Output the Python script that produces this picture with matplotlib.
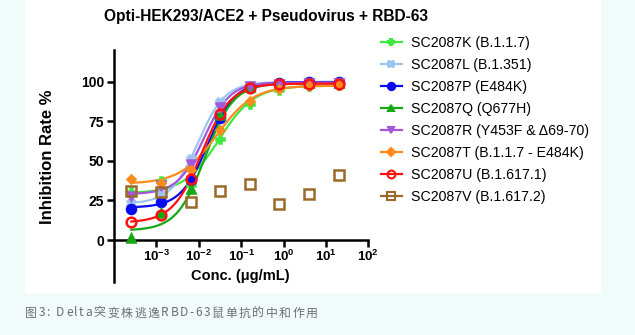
import numpy as np
import matplotlib
matplotlib.use('Agg')
import matplotlib.pyplot as plt
from matplotlib.lines import Line2D
from matplotlib.patches import Rectangle

plt.rcParams['font.family'] = ['Liberation Sans', 'DejaVu Sans']
plt.rcParams['mathtext.fontset'] = 'custom'
plt.rcParams['mathtext.rm'] = 'Liberation Sans'
plt.rcParams['mathtext.bf'] = 'Liberation Sans:bold'

# data
conc = [0.000256, 0.00128, 0.0064, 0.032, 0.16, 0.8, 4, 20]
names = ['SC2087K (B.1.1.7)', 'SC2087L (B.1.351)', 'SC2087P (E484K)', 'SC2087Q (Q677H)',
         'SC2087R (Y453F & Δ69-70)', 'SC2087T (B.1.1.7 - E484K)', 'SC2087U (B.1.617.1)',
         'SC2087V (B.1.617.2)']
K = [30.5, 37.5, 35, 63.5, 86, 95, 97.5, 98]
L = [23.5, 28.5, 51, 87, 97.5, 99, 99.5, 99.5]
P = [19.5, 24.3, 38, 77.3, 96.5, 99.4, 99.8, 99.8]
Q = [1, 17, 32.5, 79, 96.5, 98.5, 99, 99]
R = [28, 34.5, 47.7, 84, 97.5, 98.5, 99, 99]
T = [38.5, 36, 44, 69.3, 87.5, 95.5, 97.5, 98]
U = [11.5, 15.5, 38.5, 79.5, 96, 98.5, 98.5, 98.5]
V = [30.8, 30.5, 24, 30.7, 35.5, 22.5, 29.2, 41.3]

# fitted 4PL curves (bottom, top, logEC50, hill); V has no fit
fits = [(29.5, 97.5, -1.52, 1.05), (23, 99.8, -2.02, 1.35), (20.5, 99.8, -1.79, 1.36),
        (6, 99, -1.85, 1.3), (29, 99.5, -1.88, 1.4), (35.5, 97.5, -1.57, 1.0),
        (11, 98.8, -1.93, 1.27), None]

series = [K, L, P, Q, R, T, U, V]
colors = ['#3ee83e', '#9ec4f2', '#0a0af0', '#14a814', '#a458d8', '#ff8a1c', '#ff1010', '#9a6a28']
markers = ['P', 'X', 'o', '^', 'v', 'D', 'o', 's']
filled = [True, True, True, True, True, True, False, False]
msizes = [5.5, 5.5, 6.5, 6, 6, 4.5, 7, 7]

fig = plt.figure(figsize=(6.35, 3.35), dpi=100, facecolor='#f1fbf9')
fig.patches.append(Rectangle((25 / 635, 1 - 293 / 335), 576 / 635, 293 / 335,
                             transform=fig.transFigure, facecolor='white', edgecolor='none', zorder=-5))

ax = fig.add_axes([114 / 635, 53 / 335, 254.3 / 635, 232 / 335])
ax.set_zorder(2)
ax.set_facecolor('none')
ax.set_xscale('log')
ax.set_xlim(1e-4, 1e2)
ax.set_ylim(-26.5, 120)

xs = np.logspace(np.log10(conc[0]), np.log10(conc[-1]), 200)
handles = []
for i, ys in enumerate(series):
    c = colors[i]
    fc = c if filled[i] else 'none'
    if fits[i] is not None:
        b, t, lec, h = fits[i]
        ax.plot(xs, b + (t - b) / (1 + 10 ** ((lec - np.log10(xs)) * h)), color=c, lw=1.6, zorder=3)
    ax.plot(conc, ys, ls='none', marker=markers[i], ms=msizes[i], mfc=fc, mec=c, mew=1.8, zorder=4,
            clip_on=False)
    handles.append(Line2D([], [], color=c, lw=1.6, marker=markers[i], ms=msizes[i] * 0.8,
                          mfc=fc, mec=c, mew=1.5))

ax.spines['top'].set_visible(False)
ax.spines['right'].set_visible(False)
ax.spines['bottom'].set_position(('data', 0))
ax.spines['left'].set_linewidth(1.8)
ax.spines['bottom'].set_linewidth(1.8)

ax.set_yticks([0, 25, 50, 75, 100])
ax.set_yticklabels(['0', '25', '50', '75', '100'], fontweight='bold', fontsize=10)
xt = [1e-3, 1e-2, 1e-1, 1e0, 1e1, 1e2]
ax.set_xticks(xt)
ax.set_xticklabels([r'$\mathbf{10^{%d}}$' % int(np.log10(v)) for v in xt], fontsize=9.5)
ax.minorticks_off()
ax.tick_params(direction='out', length=5, width=1.8, pad=2)
ax.tick_params(axis='x', pad=1)

ax.set_xlabel('Conc. (μg/mL)', fontweight='bold', fontsize=10.5, va='center')
ax.xaxis.set_label_coords(0.498, 0.028)
ax.set_ylabel('Inhibition Rate %', fontweight='bold', fontsize=12, va='center')
ax.yaxis.set_label_coords(-0.26, 0.541)

fig.text(265.5 / 635, 1 - 17 / 335, 'Opti-HEK293/ACE2 + Pseudovirus + RBD-63',
         fontweight='bold', fontsize=11.2, ha='center', va='center')

fig.legend(handles, names, loc='upper left', bbox_to_anchor=(381 / 635, 1 - 36 / 335),
           frameon=False, fontsize=10.2, handlelength=1.45, handletextpad=0.7, labelspacing=0.56,
           borderaxespad=0, borderpad=0)

# caption with letter spacing
caption = '图3: Delta突变株逃逸RBD-63鼠单抗的中和作用'
r = fig.canvas.get_renderer()
x = 25
for ch in caption:
    t = fig.text(x / 635, 1 - 313 / 335, ch, fontsize=8.6, color='#6f6f6f', va='center',
                 family=['Noto Sans CJK SC', 'DejaVu Sans'])
    w = t.get_window_extent(renderer=r).width
    x += (w if ch != ' ' else 3) + 1.6

fig.savefig('out.png', dpi=100, facecolor=fig.get_facecolor())
